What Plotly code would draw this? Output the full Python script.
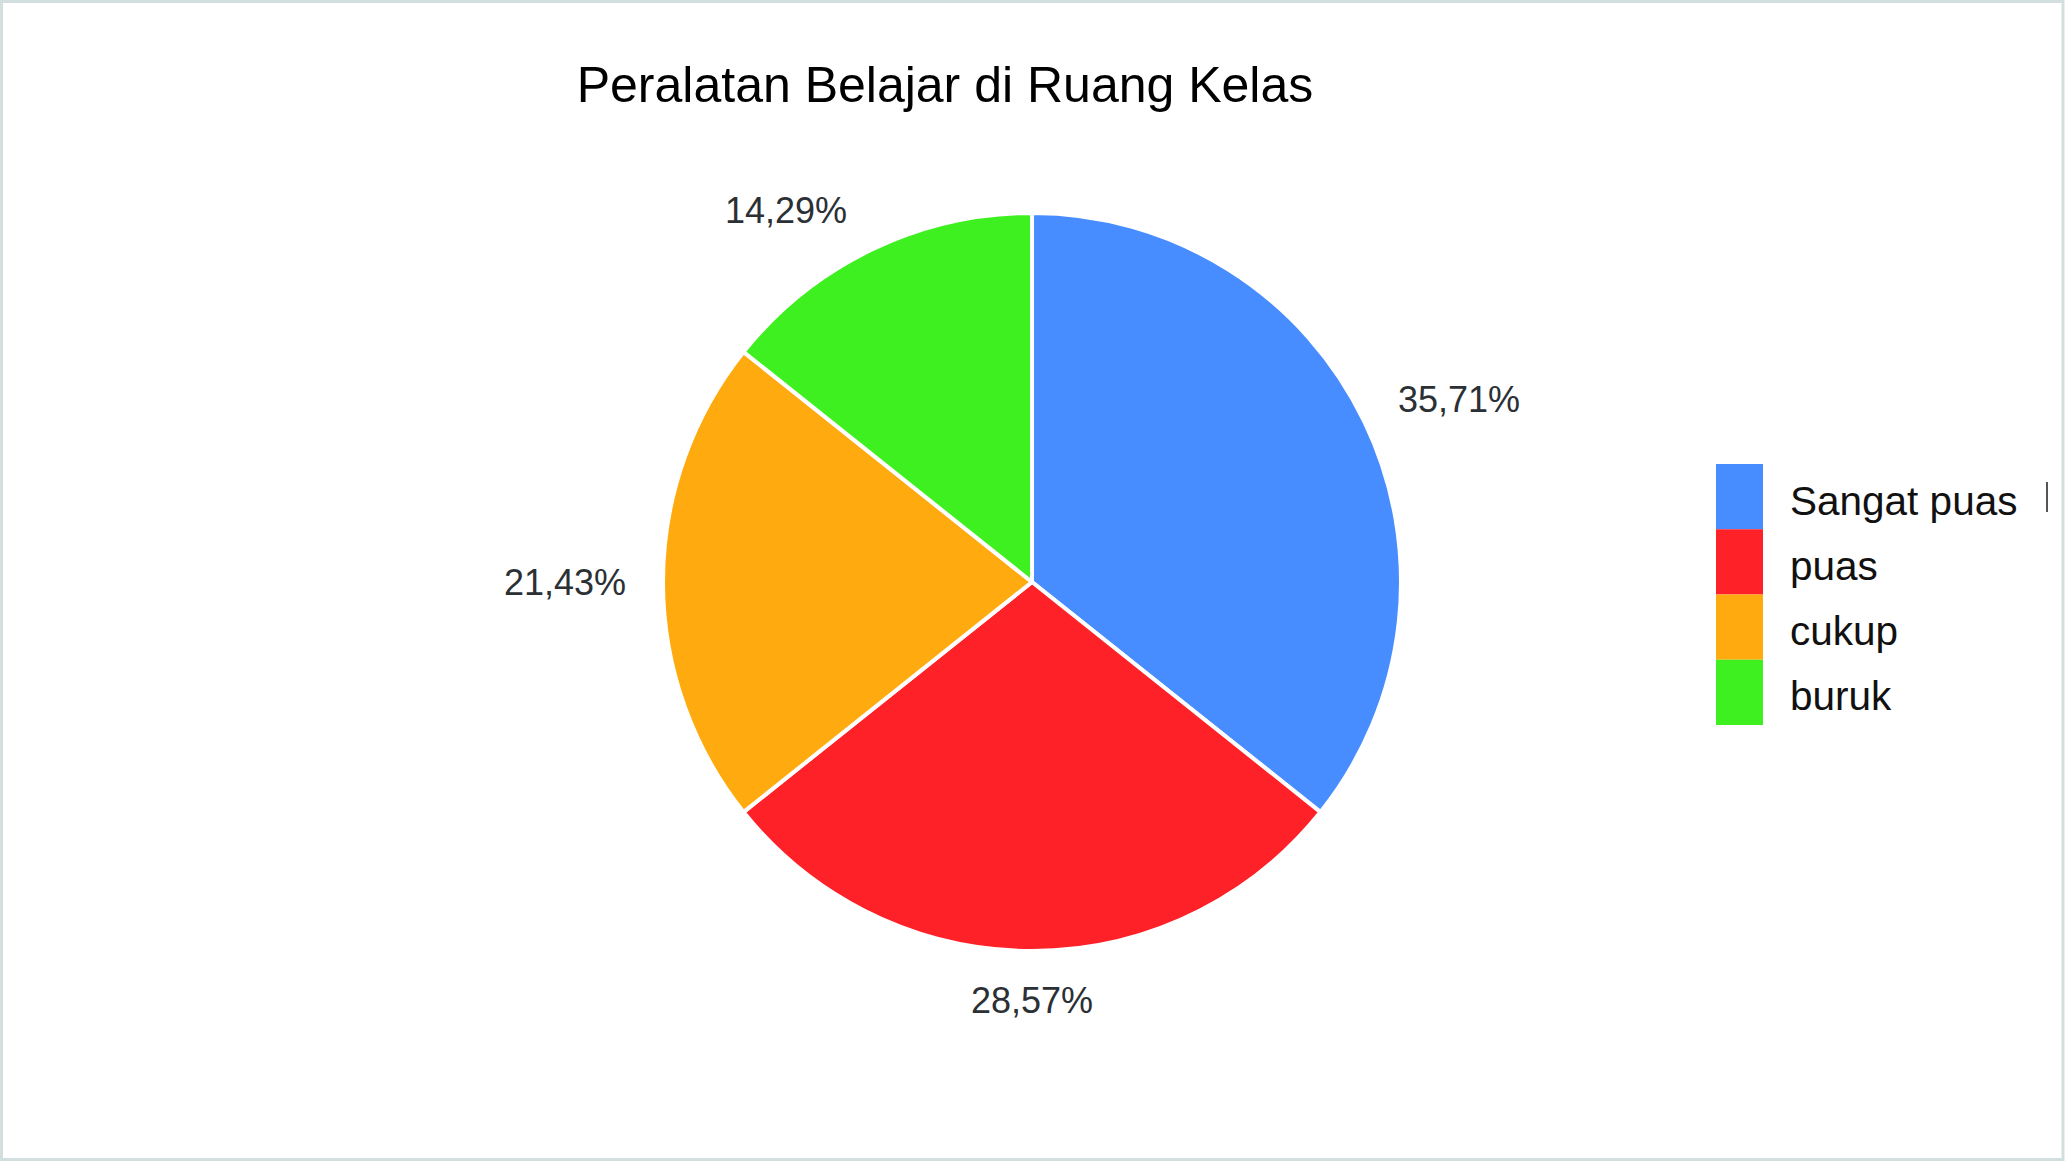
import math
import plotly.graph_objects as go

# ---- data ----
title_text = "Peralatan Belajar di Ruang Kelas"
categories = ["Sangat puas", "puas", "cukup", "buruk"]
values = [5, 4, 3, 2]
slice_colors = ["#478DFF", "#FF2128", "#FFAB0F", "#3EF01F"]

# ---- layout constants (pixels) ----
W, H = 2066, 1162
CX, CY, R = 1032, 582, 369
FONT = "Liberation Sans, Arial, sans-serif"
LABEL_SIZE = 36
LABEL_GAP = 35
EPS = 0.05

def px_x(x):
    return x / W

def px_y(y):
    return 1 - y / H

fig = go.Figure()
fig.add_trace(go.Pie(
    labels=categories,
    values=values,
    sort=False,
    direction="clockwise",
    rotation=0,
    textinfo="none",
    hoverinfo="label+percent",
    showlegend=False,
    marker=dict(colors=slice_colors, line=dict(color="white", width=4)),
    domain=dict(x=[px_x(CX - R), px_x(CX + R)], y=[px_y(CY + R), px_y(CY - R)]),
))

annotations = []
shapes = []

# percentage labels outside slices: nearest corner of label sits on mid-angle ray
total = sum(values)
cum = 0.0
for v in values:
    frac = v / total
    mid = (cum + frac / 2) * 2 * math.pi
    cum += frac
    s, c = math.sin(mid), math.cos(mid)
    d = R + LABEL_GAP
    x = CX + d * s
    y = CY - d * c
    xa = "left" if s > EPS else ("right" if s < -EPS else "center")
    if c > EPS:
        ya, y = "bottom", y + 15
    elif c < -EPS:
        ya, y = "top", y - 8
    else:
        ya = "middle"
    if s < -EPS and c > EPS:
        x -= 8
    pct = f"{frac * 100:.2f}".replace(".", ",") + "%"
    annotations.append(dict(
        x=px_x(x), y=px_y(y), xref="paper", yref="paper",
        text=pct, showarrow=False, xanchor=xa, yanchor=ya,
        font=dict(family=FONT, size=LABEL_SIZE, color="#2b3035"),
    ))

# manual legend with tall swatches
LEG_X0, LEG_X1 = 1716, 1763
LEG_Y0, ROW_H = 464, 65.25
for i, (lab, col) in enumerate(zip(categories, slice_colors)):
    y0 = LEG_Y0 + i * ROW_H
    shapes.append(dict(
        type="rect", xref="paper", yref="paper",
        x0=px_x(LEG_X0), x1=px_x(LEG_X1), y0=px_y(y0 + ROW_H), y1=px_y(y0),
        fillcolor=col, line=dict(width=0), layer="above",
    ))
    annotations.append(dict(
        x=px_x(1788), y=px_y(y0 + ROW_H / 2 + 4), xref="paper", yref="paper",
        text=lab, showarrow=False, xanchor="left", yanchor="middle",
        font=dict(family=FONT, size=40.5, color="#111111"),
    ))

# small cursor mark near legend
shapes.append(dict(type="line", xref="paper", yref="paper",
                   x0=px_x(2047), x1=px_x(2047), y0=px_y(482), y1=px_y(512),
                   line=dict(color="#555555", width=2)))

# outer border
shapes.append(dict(type="rect", xref="paper", yref="paper",
                   x0=px_x(1.5), x1=px_x(2063), y0=px_y(1159.5), y1=px_y(1.5),
                   line=dict(color="#d3dfdf", width=3), fillcolor="rgba(0,0,0,0)"))

fig.update_layout(
    width=W, height=H, autosize=False,
    margin=dict(l=0, r=0, t=0, b=0),
    paper_bgcolor="white", plot_bgcolor="white",
    title=dict(text=title_text, x=px_x(945), xanchor="center",
               y=px_y(84), yanchor="middle",
               font=dict(family=FONT, size=50, color="#000000")),
    annotations=annotations,
    shapes=shapes,
)

fig.write_html("out.html", config={"displayModeBar": False},
               post_script="document.body.style.margin='0';")
